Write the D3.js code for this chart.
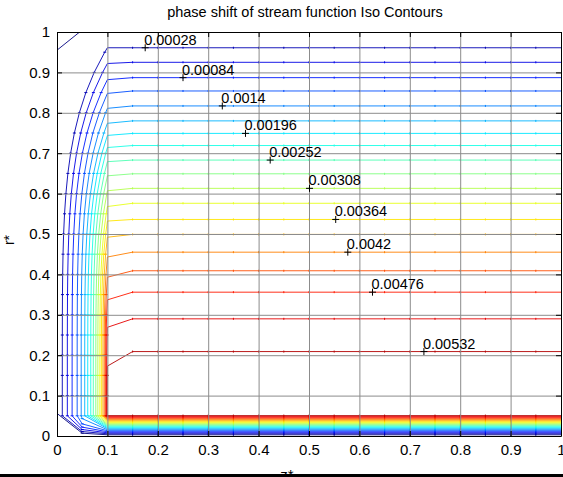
<!DOCTYPE html>
<html>
<head>
<meta charset="utf-8">
<script src="https://cdn.jsdelivr.net/npm/d3@7"></script>
<style>
body { margin: 0; background: #fff; }
svg { display: block; font-family: Arial, "Liberation Sans", Helvetica, sans-serif; }
</style>
</head>
<body>
<svg id="chart" width="563" height="477"></svg>
<script>
// contour levels (index 0 is the contour lying on the z*=0 axis)
const levels = [0, 0.00028, 0.00056, 0.00084, 0.00112, 0.0014, 0.00168, 0.00196, 0.00224, 0.00252,
                0.0028, 0.00308, 0.00336, 0.00364, 0.00392, 0.0042, 0.00448, 0.00476, 0.00504, 0.00532];
// r* of the flat part of each contour (z* >= 0.15)
const flatR = [null, 0.961, 0.925, 0.887, 0.854, 0.817, 0.780, 0.749, 0.719, 0.683, 0.649,
               0.613, 0.576, 0.536, 0.499, 0.455, 0.409, 0.356, 0.290, 0.209];
// r* where the contour meets the z*=0.1 wall
const wallR = [null, 0.961, 0.922, 0.882, 0.848, 0.811, 0.774, 0.744, 0.714, 0.679, 0.644,
               0.607, 0.568, 0.532, 0.492, 0.443, 0.393, 0.337, 0.269, 0.173];
// z* of the near vertical part, low down in the inlet strip
const stripZ = [0, 0.0105, 0.0205, 0.030, 0.040, 0.048, 0.055, 0.061, 0.067, 0.072, 0.077,
                0.081, 0.085, 0.088, 0.091, 0.0935, 0.0955, 0.097, 0.0985, 0.0995];
// r* at z*=0.05 in the bottom left corner (only for contours left of 0.05)
const cornerR = [0.007, 0.011, 0.016, 0.022, 0.030, 0.043];
// r* of each contour inside the thin band along the bottom
const bandR = [0.003, 0.0055, 0.008, 0.0105, 0.013, 0.0155, 0.018, 0.0205, 0.023, 0.0255,
               0.028, 0.0305, 0.033, 0.0355, 0.038, 0.0405, 0.043, 0.0455, 0.048, 0.0505];
// axis contour: top left corner piece, then down the axis
const axisZ = [0.045, 0, 0];
const axisR = [1, 0.955, 0.056];

// labelled contours and where the labels sit
const labelLevels = [0.00028, 0.00084, 0.0014, 0.00196, 0.00252, 0.00308, 0.00364, 0.0042, 0.00476, 0.00532];
const labelZ = [0.175, 0.250, 0.328, 0.374, 0.423, 0.501, 0.553, 0.577, 0.626, 0.728];

const xTicks = [0, 0.1, 0.2, 0.3, 0.4, 0.5, 0.6, 0.7, 0.8, 0.9, 1];
const xTickLabels = ["0", "0.1", "0.2", "0.3", "0.4", "0.5", "0.6", "0.7", "0.8", "0.9", "1"];
const yTicks = [0, 0.1, 0.2, 0.3, 0.4, 0.5, 0.6, 0.7, 0.8, 0.9, 1];
const yTickLabels = ["0", "0.1", "0.2", "0.3", "0.4", "0.5", "0.6", "0.7", "0.8", "0.9", "1"];

const svg = d3.select("#chart");
const W = 563, H = 477;
const margin = {top: 32, right: 2, bottom: 41, left: 57};
const w = W - margin.left - margin.right, h = H - margin.top - margin.bottom;

const x = d3.scaleLinear().domain([0, 1]).range([0, w]);
const y = d3.scaleLinear().domain([0, 1]).range([h, 0]);

function jet(t) {
    const c = v => Math.max(0, Math.min(1, v));
    return d3.rgb(255 * c(1.5 - Math.abs(4 * t - 3)),
                  255 * c(1.5 - Math.abs(4 * t - 2)),
                  255 * c(1.5 - Math.abs(4 * t - 1))) + "";
}
const color = d3.scaleSequential(jet).domain([0, 0.0056]);

svg.append("rect").attr("width", W).attr("height", H).attr("fill", "#fff");

const g = svg.append("g").attr("transform", `translate(${margin.left},${margin.top})`);

svg.append("defs").append("clipPath").attr("id", "plotclip")
    .append("rect").attr("width", w).attr("height", h);

// mesh columns / rows where the contour polylines have their vertices
const meshZ = d3.range(0.15, 1.0001, 0.05);
const meshR = d3.range(0.05, 1.0001, 0.05);
const bend = 5;

function contourPoints(k) {
    const pts = [];
    if (k === 0) {
        axisZ.forEach((z, i) => pts.push({z, r: axisR[i], m: null}));
    } else {
        meshZ.slice().reverse().forEach(z => pts.push({z, r: flatR[k], m: "v"}));
        pts.push({z: 0.1, r: wallR[k], m: null});
        meshR.filter(r => r < wallR[k] - 0.004).reverse().forEach(r => {
            const t = (r - 0.05) / (wallR[k] - 0.05);
            pts.push({z: stripZ[k] + (0.1 - stripZ[k]) * Math.pow(t, bend), r, m: "h"});
        });
    }
    if (cornerR[k] !== undefined) pts.push({z: 0.05, r: cornerR[k], m: "h"});
    pts.push({z: 0.1, r: bandR[k], m: null});
    meshZ.forEach(z => pts.push({z, r: bandR[k], m: "v"}));
    return pts;
}

const contours = levels.map((lev, k) => ({level: lev, pts: contourPoints(k)}));

const line = d3.line().x(d => x(d.z)).y(d => y(d.r));

const plot = g.append("g").attr("clip-path", "url(#plotclip)");

plot.selectAll("path.contour")
    .data(contours)
    .join("path")
    .attr("class", "contour")
    .attr("fill", "none")
    .attr("stroke", d => color(d.level))
    .attr("stroke-width", 0.9)
    .attr("d", d => line(d.pts));

// small vertex marks along each contour
plot.selectAll("g.marks")
    .data(contours)
    .join("g")
    .attr("class", "marks")
    .attr("stroke", d => color(d.level))
    .attr("stroke-width", 1)
    .selectAll("line")
    .data(d => d.pts.filter(p => p.m && p.z < 0.999))
    .join("line")
    .attr("x1", p => x(p.z) - (p.m === "h" ? 1.5 : 0))
    .attr("x2", p => x(p.z) + (p.m === "h" ? 1.5 : 0))
    .attr("y1", p => y(p.r) - (p.m === "v" ? 1 : 0))
    .attr("y2", p => y(p.r) + (p.m === "v" ? 1 : 0));

// grid
g.append("g")
    .attr("transform", `translate(0,${h})`)
    .call(d3.axisBottom(x).tickValues(xTicks).tickSize(-h).tickFormat(""))
    .call(a => a.select(".domain").remove())
    .call(a => a.selectAll("line").attr("stroke", "#8c8c8c"));
g.append("g")
    .call(d3.axisLeft(y).tickValues(yTicks).tickSize(-w).tickFormat(""))
    .call(a => a.select(".domain").remove())
    .call(a => a.selectAll("line").attr("stroke", "#8c8c8c"));

// contour labels
const labels = g.append("g");
labelLevels.forEach((lev, i) => {
    const k = levels.indexOf(lev);
    const px = x(labelZ[i]), py = y(flatR[k]);
    labels.append("path")
        .attr("d", `M${px - 3.5},${py}H${px + 3.5}M${px},${py - 3.5}V${py + 3.5}`)
        .attr("stroke", "#000").attr("stroke-width", 1);
    labels.append("text")
        .attr("x", px - 1).attr("y", py - 3)
        .attr("font-size", 14.5)
        .attr("fill", "#000")
        .text(String(lev));
});

// axes with inward ticks
const styleAxis = a => {
    a.select(".domain").attr("stroke", "#000");
    a.selectAll(".tick line").attr("stroke", "#000");
    a.selectAll("text").attr("font-size", 15).attr("fill", "#000").attr("font-family", null);
};
g.append("g")
    .attr("transform", `translate(0,${h})`)
    .call(d3.axisBottom(x).tickValues(xTicks).tickFormat((d, i) => xTickLabels[i])
        .tickSizeInner(-5).tickSizeOuter(0).tickPadding(8))
    .call(styleAxis);
g.append("g")
    .call(d3.axisLeft(y).tickValues(yTicks).tickFormat((d, i) => yTickLabels[i])
        .tickSizeInner(-5).tickSizeOuter(0).tickPadding(7))
    .call(styleAxis);
g.append("g")
    .call(d3.axisTop(x).tickValues(xTicks).tickFormat("").tickSizeInner(-5).tickSizeOuter(0))
    .call(styleAxis);
g.append("g")
    .attr("transform", `translate(${w},0)`)
    .call(d3.axisRight(y).tickValues(yTicks).tickFormat("").tickSizeInner(-5).tickSizeOuter(0))
    .call(styleAxis);

// title and axis labels
svg.append("text")
    .attr("x", 305).attr("y", 17)
    .attr("text-anchor", "middle")
    .attr("font-size", 14.5)
    .text("phase shift of stream function Iso Contours");
svg.append("text")
    .attr("transform", "translate(14,240) rotate(-90)")
    .attr("text-anchor", "middle")
    .attr("font-size", 14)
    .text("r*");
svg.append("text")
    .attr("x", 287).attr("y", 480)
    .attr("text-anchor", "middle")
    .attr("font-size", 15)
    .text("z*");

// dark strip along the bottom of the figure
svg.append("rect").attr("x", 0).attr("y", 474).attr("width", W).attr("height", 3).attr("fill", "#000");
</script>
</body>
</html>
